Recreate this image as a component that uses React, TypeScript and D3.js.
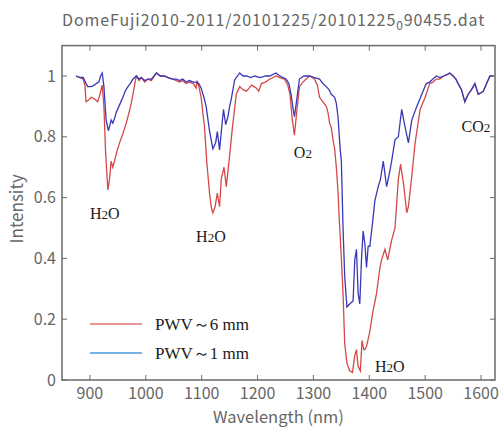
import * as d3 from "d3";

// wavelength (nm) and intensity
const redWl = [875, 882, 888, 891, 893, 897, 902, 908, 914, 918, 922, 925, 928, 932, 935, 938, 941, 944, 948, 953, 959, 965, 970, 974, 978, 983, 988, 992, 998, 1004, 1010, 1015, 1019, 1026, 1033, 1040, 1048, 1055, 1060, 1066, 1072, 1078, 1085, 1090, 1092, 1095, 1099, 1102, 1105, 1109, 1114, 1117, 1120, 1124, 1128, 1132, 1135, 1140, 1144, 1149, 1155, 1162, 1168, 1174, 1180, 1185, 1189, 1194, 1198, 1202, 1207, 1214, 1222, 1228, 1233, 1240, 1248, 1254, 1258, 1262, 1266, 1270, 1275, 1281, 1287, 1293, 1298, 1302, 1307, 1311, 1317, 1323, 1326, 1329, 1332, 1335, 1338, 1341, 1344, 1346, 1350, 1353, 1356, 1360, 1365, 1370, 1374, 1377, 1380, 1384, 1387, 1390, 1392, 1395, 1401, 1406, 1413, 1419, 1422, 1428, 1433, 1440, 1446, 1452, 1456, 1462, 1467, 1470, 1476, 1482, 1491, 1500, 1508, 1514, 1520, 1526, 1533, 1540, 1544, 1550, 1555, 1559, 1565, 1571, 1577, 1583, 1589, 1595, 1600, 1604, 1610, 1616, 1622];
const redVal = [1.0, 0.995, 0.99, 0.97, 0.915, 0.92, 0.93, 0.925, 0.915, 0.94, 0.97, 0.9, 0.75, 0.625, 0.66, 0.72, 0.7, 0.72, 0.75, 0.78, 0.81, 0.845, 0.88, 0.91, 0.95, 1.0, 0.985, 0.995, 0.98, 0.99, 0.985, 1.0, 1.01, 1.0, 1.0, 0.995, 0.99, 0.985, 0.98, 0.985, 0.975, 0.98, 0.975, 0.96, 0.985, 0.965, 0.93, 0.88, 0.833, 0.72, 0.615, 0.57, 0.55, 0.57, 0.615, 0.57, 0.66, 0.7, 0.636, 0.72, 0.83, 0.94, 0.965, 0.955, 0.95, 0.96, 0.97, 0.965, 0.96, 0.95, 0.975, 0.98, 0.99, 0.995, 1.0, 0.995, 0.99, 0.97, 0.94, 0.86, 0.805, 0.88, 0.965, 0.98, 0.99, 1.0, 0.995, 0.99, 0.97, 0.93, 0.915, 0.9, 0.88, 0.845, 0.83, 0.79, 0.76, 0.7, 0.62, 0.54, 0.4, 0.285, 0.12, 0.055, 0.03, 0.025, 0.08, 0.1, 0.045, 0.03, 0.13, 0.1, 0.1, 0.11, 0.16, 0.22, 0.285, 0.37, 0.395, 0.43, 0.395, 0.46, 0.5, 0.66, 0.71, 0.636, 0.55, 0.57, 0.67, 0.78, 0.89, 0.93, 0.975, 0.98, 0.99, 0.99, 1.0, 1.005, 1.01, 1.0, 0.99, 0.975, 0.955, 0.915, 0.94, 0.955, 0.975, 0.94, 0.945, 0.95, 0.975, 1.0, 1.0];

const blueWl = [875, 882, 888, 893, 896, 902, 908, 911, 916, 919, 922, 925, 929, 933, 936, 938, 941, 944, 947, 953, 959, 963, 968, 972, 977, 983, 988, 992, 998, 1004, 1010, 1015, 1019, 1026, 1033, 1040, 1048, 1055, 1060, 1066, 1072, 1078, 1085, 1090, 1095, 1099, 1104, 1108, 1111, 1114, 1117, 1120, 1125, 1128, 1132, 1136, 1139, 1143, 1147, 1150, 1153, 1159, 1168, 1174, 1180, 1188, 1195, 1205, 1214, 1222, 1233, 1240, 1251, 1256, 1260, 1263, 1266, 1270, 1275, 1283, 1293, 1302, 1311, 1317, 1323, 1328, 1332, 1338, 1341, 1344, 1348, 1350, 1353, 1356, 1360, 1365, 1371, 1374, 1377, 1380, 1383, 1386, 1389, 1392, 1395, 1398, 1401, 1406, 1410, 1416, 1420, 1425, 1431, 1436, 1440, 1446, 1452, 1458, 1464, 1470, 1476, 1485, 1494, 1502, 1508, 1514, 1520, 1526, 1533, 1540, 1544, 1550, 1555, 1559, 1565, 1571, 1577, 1583, 1589, 1595, 1600, 1604, 1610, 1616, 1622];
const blueVal = [1.0, 0.995, 0.995, 0.975, 0.965, 0.965, 0.97, 0.975, 0.98, 1.0, 1.01, 0.965, 0.855, 0.82, 0.84, 0.855, 0.845, 0.86, 0.88, 0.905, 0.93, 0.95, 0.965, 0.975, 0.99, 1.0, 0.99, 0.995, 0.985, 0.99, 0.99, 1.0, 1.01, 1.0, 1.0, 0.995, 0.99, 0.99, 0.985, 0.99, 0.98, 0.985, 0.98, 0.98, 0.975, 0.96, 0.93, 0.9, 0.86, 0.82, 0.79, 0.76, 0.78, 0.817, 0.757, 0.833, 0.89, 0.84, 0.866, 0.9, 0.925, 0.987, 1.01, 1.0, 1.0, 0.995, 1.0, 0.995, 1.0, 1.0, 1.01, 1.0, 0.99, 0.975, 0.94, 0.9, 0.866, 0.92, 0.99, 1.0, 1.0, 0.995, 0.99, 0.975, 0.965, 0.955, 0.94, 0.93, 0.91, 0.866, 0.757, 0.72, 0.5, 0.34, 0.24, 0.25, 0.26, 0.395, 0.43, 0.285, 0.25, 0.395, 0.49, 0.45, 0.37, 0.44, 0.44, 0.52, 0.59, 0.636, 0.66, 0.72, 0.636, 0.68, 0.72, 0.79, 0.8, 0.89, 0.833, 0.78, 0.855, 0.9, 0.94, 0.975, 0.98, 0.99, 1.0, 0.995, 1.0, 1.005, 1.01, 1.0, 0.99, 0.975, 0.955, 0.915, 0.94, 0.955, 0.975, 0.94, 0.945, 0.95, 0.975, 1.0, 1.0];

const xTicks = [900, 1000, 1100, 1200, 1300, 1400, 1500, 1600];
const yTicks = [0, 0.2, 0.4, 0.6, 0.8, 1];
const yTickLabels = ["0", "0.2", "0.4", "0.6", "0.8", "1"];

const seriesNames = ["PWV～6 mm", "PWV～1 mm"];

// annotations: [wavelength, intensity, molecule, subscript, trailing]
const notes: [number, number, string, string, string][] = [
  [900, 0.53, "H", "2", "O"],
  [1090, 0.455, "H", "2", "O"],
  [1265, 0.73, "O", "2", ""],
  [1565, 0.815, "CO", "2", ""],
  [1410, 0.025, "H", "2", "O"],
];

const W = 500;
const H = 429;
const left = 62, right = 495, top = 45.6, bottom = 380;

export default function App() {
  const x = d3.scaleLinear().domain([850, 1625]).range([left, right]);
  const y = d3.scaleLinear().domain([0, 1.1]).range([bottom, top]);

  const line = d3.line<[number, number]>()
    .x(d => x(d[0]))
    .y(d => y(d[1]));

  const red = line(redWl.map((w, i) => [w, redVal[i]]));
  const blue = line(blueWl.map((w, i) => [w, blueVal[i]]));

  const axisCol = "#6a6a6a";
  const labelCol = "#666";
  const sans = "'Noto Sans CJK JP', 'DejaVu Sans', sans-serif";
  const serif = "'Liberation Serif', 'DejaVu Serif', serif";

  return (
    <svg width={W} height={H} style={{ position: "absolute", left: 0, top: 0, background: "#fff" }}>
      <text x={62} y={26} fontFamily={sans} fontSize={16} letterSpacing={0.9} fill={labelCol}>
        DomeFuji2010-2011/20101225/20101225
        <tspan fontSize={12} dy={4}>0</tspan>
        <tspan dy={-4}>90455.dat</tspan>
      </text>

      <clipPath id="plot">
        <rect x={left} y={top} width={right - left} height={bottom - top} />
      </clipPath>
      <g clipPath="url(#plot)">
        <path d={red ?? ""} fill="none" stroke="#d44848" strokeWidth={1.3} />
        <path d={blue ?? ""} fill="none" stroke="#3838b8" strokeWidth={1.3} />
      </g>

      <rect x={left} y={top} width={right - left} height={bottom - top}
        fill="none" stroke={axisCol} strokeWidth={1.5} />

      {xTicks.map(t => (
        <g key={t}>
          <line x1={x(t)} x2={x(t)} y1={bottom} y2={bottom - 5} stroke={axisCol} />
          <line x1={x(t)} x2={x(t)} y1={top} y2={top + 5} stroke={axisCol} />
          <text x={x(t)} y={399} textAnchor="middle" fontFamily={sans} fontSize={16} fill={labelCol}>{t}</text>
        </g>
      ))}
      {yTicks.map((t, i) => (
        <g key={t}>
          <line x1={left} x2={left + 5} y1={y(t)} y2={y(t)} stroke={axisCol} />
          <line x1={right} x2={right - 5} y1={y(t)} y2={y(t)} stroke={axisCol} />
          <text x={56} y={y(t)} dy="0.35em" textAnchor="end" fontFamily={sans} fontSize={16} fill={labelCol}>{yTickLabels[i]}</text>
        </g>
      ))}

      <text transform={`translate(23, ${(top + bottom) / 2 - 4}) rotate(-90)`} textAnchor="middle"
        fontFamily={sans} fontSize={17} fill={labelCol}>Intensity</text>
      <text x={(left + right) / 2} y={423} textAnchor="middle" fontFamily={sans} fontSize={16.5} fill={labelCol}>Wavelength (nm)</text>

      {notes.map((n, i) => (
        <text key={i} x={x(n[0])} y={y(n[1])} fontFamily={serif} fontSize={16} fill="#1a1a1a">
          {n[2]}<tspan fontSize={13}>{n[3]}</tspan>{n[4]}
        </text>
      ))}

      {seriesNames.map((s, i) => (
        <g key={s}>
          <line x1={90} x2={142} y1={324 + i * 29} y2={324 + i * 29}
            stroke={i === 0 ? "#e07070" : "#4a96d8"} strokeWidth={1.6} />
          <text x={155} y={330 + i * 29} fontFamily={serif} fontSize={17} fill="#1a1a1a">{s}</text>
        </g>
      ))}
    </svg>
  );
}
